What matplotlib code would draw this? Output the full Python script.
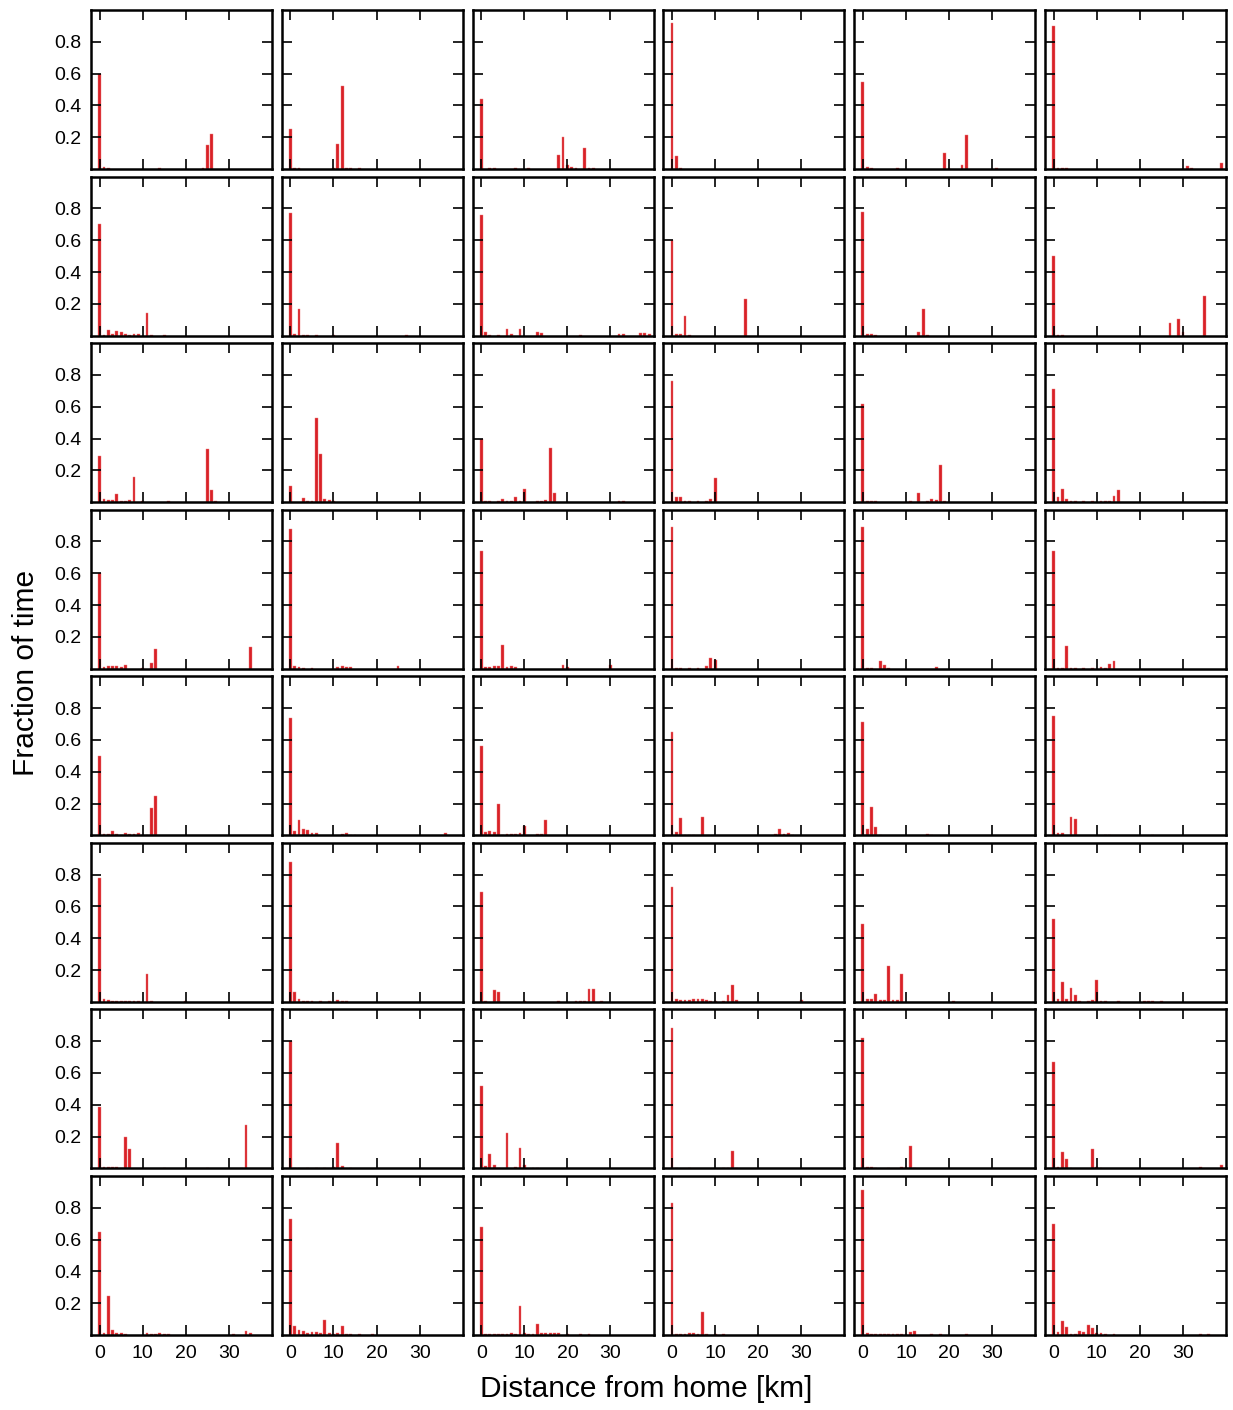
import matplotlib
matplotlib.use("Agg")
import matplotlib.pyplot as plt

# fraction of time spent at each distance bin (km -> fraction), one dict per panel
row_1 = [
    {0: 0.60, 1: 0.012, 2: 0.008, 14: 0.006, 24: 0.005, 25: 0.15, 26: 0.22},
    {0: 0.25, 1: 0.005, 2: 0.01, 10: 0.01, 11: 0.16, 12: 0.52, 13: 0.01, 14: 0.005, 16: 0.01},
    {0: 0.44, 2: 0.01, 3: 0.005, 8: 0.01, 11: 0.005, 18: 0.087, 19: 0.20, 20: 0.025,
     21: 0.015, 22: 0.01, 24: 0.13, 25: 0.005, 26: 0.005},
    {0: 0.92, 1: 0.085, 2: 0.004},
    {0: 0.55, 1: 0.015, 2: 0.008, 8: 0.005, 19: 0.10, 20: 0.005, 23: 0.025, 24: 0.215, 31: 0.004},
    {0: 0.90, 1: 0.01, 2: 0.008, 3: 0.005, 31: 0.02, 32: 0.005, 39: 0.04},
]
row_2 = [
    {0: 0.70, 1: 0.005, 2: 0.035, 3: 0.01, 4: 0.03, 5: 0.025, 6: 0.008, 7: 0.005,
     8: 0.01, 9: 0.01, 11: 0.14, 12: 0.005, 15: 0.005},
    {0: 0.77, 1: 0.01, 2: 0.17, 3: 0.005, 4: 0.004, 6: 0.004, 10: 0.004, 27: 0.006},
    {0: 0.76, 1: 0.02, 2: 0.005, 4: 0.005, 6: 0.04, 7: 0.008, 9: 0.04, 13: 0.02, 14: 0.015,
     23: 0.005, 32: 0.01, 33: 0.01, 37: 0.015, 38: 0.015, 39: 0.01},
    {0: 0.60, 1: 0.01, 2: 0.008, 3: 0.125, 4: 0.004, 17: 0.23},
    {0: 0.78, 1: 0.01, 2: 0.01, 3: 0.004, 13: 0.02, 14: 0.17, 15: 0.004},
    {0: 0.50, 1: 0.005, 2: 0.005, 27: 0.078, 29: 0.105, 30: 0.02, 35: 0.25},
]
row_3 = [
    {0: 0.29, 1: 0.02, 2: 0.015, 3: 0.015, 4: 0.05, 5: 0.01, 6: 0.01, 7: 0.015, 8: 0.16,
     10: 0.005, 16: 0.008, 25: 0.335, 26: 0.078, 27: 0.005},
    {0: 0.10, 3: 0.025, 4: 0.01, 5: 0.008, 6: 0.53, 7: 0.305, 8: 0.02, 9: 0.015, 10: 0.01},
    {0: 0.40, 1: 0.005, 2: 0.005, 4: 0.005, 5: 0.02, 6: 0.01, 7: 0.01, 8: 0.03, 9: 0.01,
     10: 0.08, 13: 0.005, 14: 0.005, 15: 0.015, 16: 0.34, 17: 0.055, 20: 0.004, 32: 0.01, 33: 0.01},
    {0: 0.76, 1: 0.03, 2: 0.035, 3: 0.008, 4: 0.005, 6: 0.005, 8: 0.005, 9: 0.02, 10: 0.155},
    {0: 0.62, 1: 0.01, 2: 0.01, 3: 0.01, 11: 0.005, 13: 0.057, 15: 0.008, 16: 0.02,
     17: 0.015, 18: 0.234, 19: 0.01},
    {0: 0.71, 1: 0.03, 2: 0.08, 3: 0.02, 4: 0.008, 5: 0.005, 7: 0.005, 9: 0.005, 11: 0.01,
     12: 0.005, 13: 0.008, 14: 0.04, 15: 0.078, 35: 0.004},
]
row_4 = [
    {0: 0.60, 1: 0.01, 2: 0.015, 3: 0.015, 4: 0.015, 5: 0.01, 6: 0.025, 10: 0.005,
     12: 0.038, 13: 0.126, 35: 0.137},
    {0: 0.88, 1: 0.02, 2: 0.008, 3: 0.005, 5: 0.004, 11: 0.008, 12: 0.015, 13: 0.01,
     14: 0.008, 25: 0.02},
    {0: 0.74, 1: 0.01, 2: 0.008, 3: 0.015, 4: 0.015, 5: 0.152, 6: 0.01, 7: 0.015, 8: 0.008,
     19: 0.025, 20: 0.008, 30: 0.025},
    {0: 0.89, 1: 0.005, 2: 0.005, 4: 0.004, 6: 0.005, 8: 0.015, 9: 0.065, 10: 0.055},
    {0: 0.89, 1: 0.005, 2: 0.005, 4: 0.05, 5: 0.025, 6: 0.004, 17: 0.008},
    {0: 0.74, 1: 0.005, 2: 0.005, 3: 0.14, 4: 0.005, 5: 0.004, 7: 0.004, 9: 0.005,
     11: 0.008, 12: 0.004, 13: 0.027, 14: 0.048},
]
row_5 = [
    {0: 0.50, 1: 0.01, 2: 0.008, 3: 0.025, 4: 0.008, 5: 0.005, 6: 0.015, 7: 0.008, 8: 0.008,
     9: 0.015, 10: 0.005, 11: 0.005, 12: 0.17, 13: 0.248},
    {0: 0.74, 1: 0.03, 2: 0.095, 3: 0.04, 4: 0.035, 5: 0.017, 6: 0.012, 12: 0.008,
     13: 0.015, 14: 0.005, 15: 0.005, 36: 0.015},
    {0: 0.56, 1: 0.02, 2: 0.025, 3: 0.02, 4: 0.196, 5: 0.005, 6: 0.008, 7: 0.008, 8: 0.008,
     9: 0.015, 10: 0.06, 13: 0.008, 14: 0.008, 15: 0.095},
    {0: 0.65, 1: 0.02, 2: 0.11, 3: 0.004, 4: 0.005, 5: 0.005, 7: 0.115, 24: 0.01,
     25: 0.042, 26: 0.01, 27: 0.015, 28: 0.005},
    {0: 0.71, 1: 0.04, 2: 0.18, 3: 0.055, 4: 0.005, 15: 0.008, 16: 0.004},
    {0: 0.75, 1: 0.015, 2: 0.015, 4: 0.114, 5: 0.105, 12: 0.005, 13: 0.005, 23: 0.004},
]
row_6 = [
    {0: 0.78, 1: 0.015, 2: 0.01, 3: 0.008, 4: 0.008, 5: 0.008, 6: 0.005, 7: 0.005, 8: 0.005,
     9: 0.005, 11: 0.175, 12: 0.005, 20: 0.004},
    {0: 0.88, 1: 0.065, 2: 0.02, 3: 0.005, 4: 0.005, 5: 0.005, 7: 0.005, 9: 0.005,
     11: 0.01, 12: 0.005, 13: 0.005},
    {0: 0.69, 1: 0.005, 3: 0.074, 4: 0.065, 10: 0.004, 18: 0.004, 22: 0.008, 23: 0.005,
     24: 0.005, 25: 0.078, 26: 0.078, 28: 0.005},
    {0: 0.72, 1: 0.015, 2: 0.01, 3: 0.01, 4: 0.01, 5: 0.02, 6: 0.02, 7: 0.02, 8: 0.01,
     9: 0.005, 10: 0.005, 12: 0.005, 13: 0.046, 14: 0.105, 15: 0.01, 30: 0.01},
    {0: 0.49, 1: 0.015, 2: 0.015, 3: 0.05, 4: 0.01, 5: 0.01, 6: 0.223, 7: 0.01, 8: 0.01,
     9: 0.175, 21: 0.004, 30: 0.004},
    {0: 0.52, 1: 0.015, 2: 0.128, 3: 0.02, 4: 0.09, 5: 0.046, 6: 0.005, 8: 0.005, 9: 0.01,
     10: 0.139, 11: 0.005, 12: 0.008, 15: 0.004, 21: 0.008, 22: 0.008, 23: 0.008, 25: 0.004},
]
row_7 = [
    {0: 0.387, 1: 0.01, 2: 0.01, 3: 0.008, 4: 0.008, 5: 0.005, 6: 0.196, 7: 0.122,
     15: 0.003, 20: 0.003, 25: 0.003, 33: 0.005, 34: 0.274},
    {0: 0.80, 1: 0.005, 2: 0.004, 4: 0.004, 6: 0.004, 8: 0.004, 10: 0.008, 11: 0.16,
     12: 0.015, 14: 0.004},
    {0: 0.52, 1: 0.015, 2: 0.09, 3: 0.02, 4: 0.005, 6: 0.22, 8: 0.008, 9: 0.126, 10: 0.02,
     12: 0.004, 13: 0.004},
    {0: 0.88, 1: 0.004, 4: 0.004, 12: 0.005, 13: 0.005, 14: 0.11, 15: 0.004},
    {0: 0.82, 1: 0.01, 2: 0.008, 3: 0.005, 6: 0.004, 9: 0.008, 10: 0.008, 11: 0.143, 12: 0.004},
    {0: 0.67, 1: 0.01, 2: 0.103, 3: 0.061, 4: 0.005, 9: 0.12, 10: 0.01, 11: 0.004,
     30: 0.004, 34: 0.01, 39: 0.02},
]
row_8 = [
    {0: 0.65, 1: 0.015, 2: 0.242, 3: 0.034, 4: 0.01, 5: 0.015, 6: 0.004, 11: 0.01, 12: 0.008,
     13: 0.008, 14: 0.012, 15: 0.005, 16: 0.004, 31: 0.005, 34: 0.023, 35: 0.01},
    {0: 0.726, 1: 0.055, 2: 0.03, 3: 0.025, 4: 0.015, 5: 0.02, 6: 0.02, 7: 0.015, 8: 0.097,
     9: 0.015, 10: 0.008, 11: 0.01, 12: 0.059, 13: 0.005, 14: 0.005, 16: 0.004, 19: 0.004},
    {0: 0.676, 1: 0.008, 2: 0.008, 3: 0.008, 4: 0.008, 5: 0.008, 6: 0.008, 7: 0.015,
     8: 0.005, 9: 0.181, 10: 0.01, 11: 0.005, 12: 0.005, 13: 0.072, 14: 0.01, 15: 0.015,
     16: 0.01, 17: 0.01, 18: 0.015, 20: 0.004, 23: 0.004, 25: 0.004},
    {0: 0.83, 1: 0.005, 2: 0.008, 3: 0.005, 4: 0.015, 5: 0.015, 6: 0.008, 7: 0.145,
     8: 0.005, 10: 0.004, 12: 0.004},
    {0: 0.91, 1: 0.01, 2: 0.005, 3: 0.004, 4: 0.004, 5: 0.004, 6: 0.004, 7: 0.004, 8: 0.004,
     9: 0.004, 10: 0.008, 11: 0.018, 12: 0.028, 16: 0.004, 18: 0.004, 24: 0.004},
    {0: 0.695, 1: 0.02, 2: 0.086, 3: 0.053, 4: 0.005, 5: 0.005, 6: 0.025, 7: 0.02,
     8: 0.061, 9: 0.044, 10: 0.015, 11: 0.01, 12: 0.005, 14: 0.004, 34: 0.004, 36: 0.004},
]
rows = [row_1, row_2, row_3, row_4, row_5, row_6, row_7, row_8]

x_ticks = [0, 10, 20, 30]
y_ticks = [0.2, 0.4, 0.6, 0.8]

plt.rcParams["font.family"] = ["Liberation Sans", "DejaVu Sans"]

fig, axes = plt.subplots(8, 6, figsize=(12.33, 14.10), dpi=100, sharex=True, sharey=True)
fig.subplots_adjust(left=0.0738, right=0.9943, top=0.9929, bottom=0.0532,
                    wspace=0.055, hspace=0.047)

for r, row in enumerate(rows):
    for c, panel in enumerate(row):
        ax = axes[r, c]
        km = list(panel.keys())
        frac = list(panel.values())
        ax.bar(km, frac, width=0.65, color="#d92127", edgecolor="#ec7a7a", linewidth=0.3)
        ax.set_xlim(-2, 40)
        ax.set_ylim(0, 1)
        ax.set_xticks(x_ticks)
        ax.set_yticks(y_ticks)
        ax.tick_params(direction="in", length=7, width=1.2, top=True, right=True,
                       labelsize=14, pad=7, color="black")
        for s in ax.spines.values():
            s.set_linewidth(1.8)
        if c != 0:
            ax.tick_params(labelleft=False)
        if r != 7:
            ax.tick_params(labelbottom=False)

axes[0, 0].set_yticklabels(["0.2", "0.4", "0.6", "0.8"])

fig.text(0.021, 0.523, "Fraction of time", rotation=90, ha="center", va="center", fontsize=21.5)
fig.text(0.524, 0.015, "Distance from home [km]", ha="center", va="center", fontsize=21.5)

fig.savefig("out.png", dpi=100)
